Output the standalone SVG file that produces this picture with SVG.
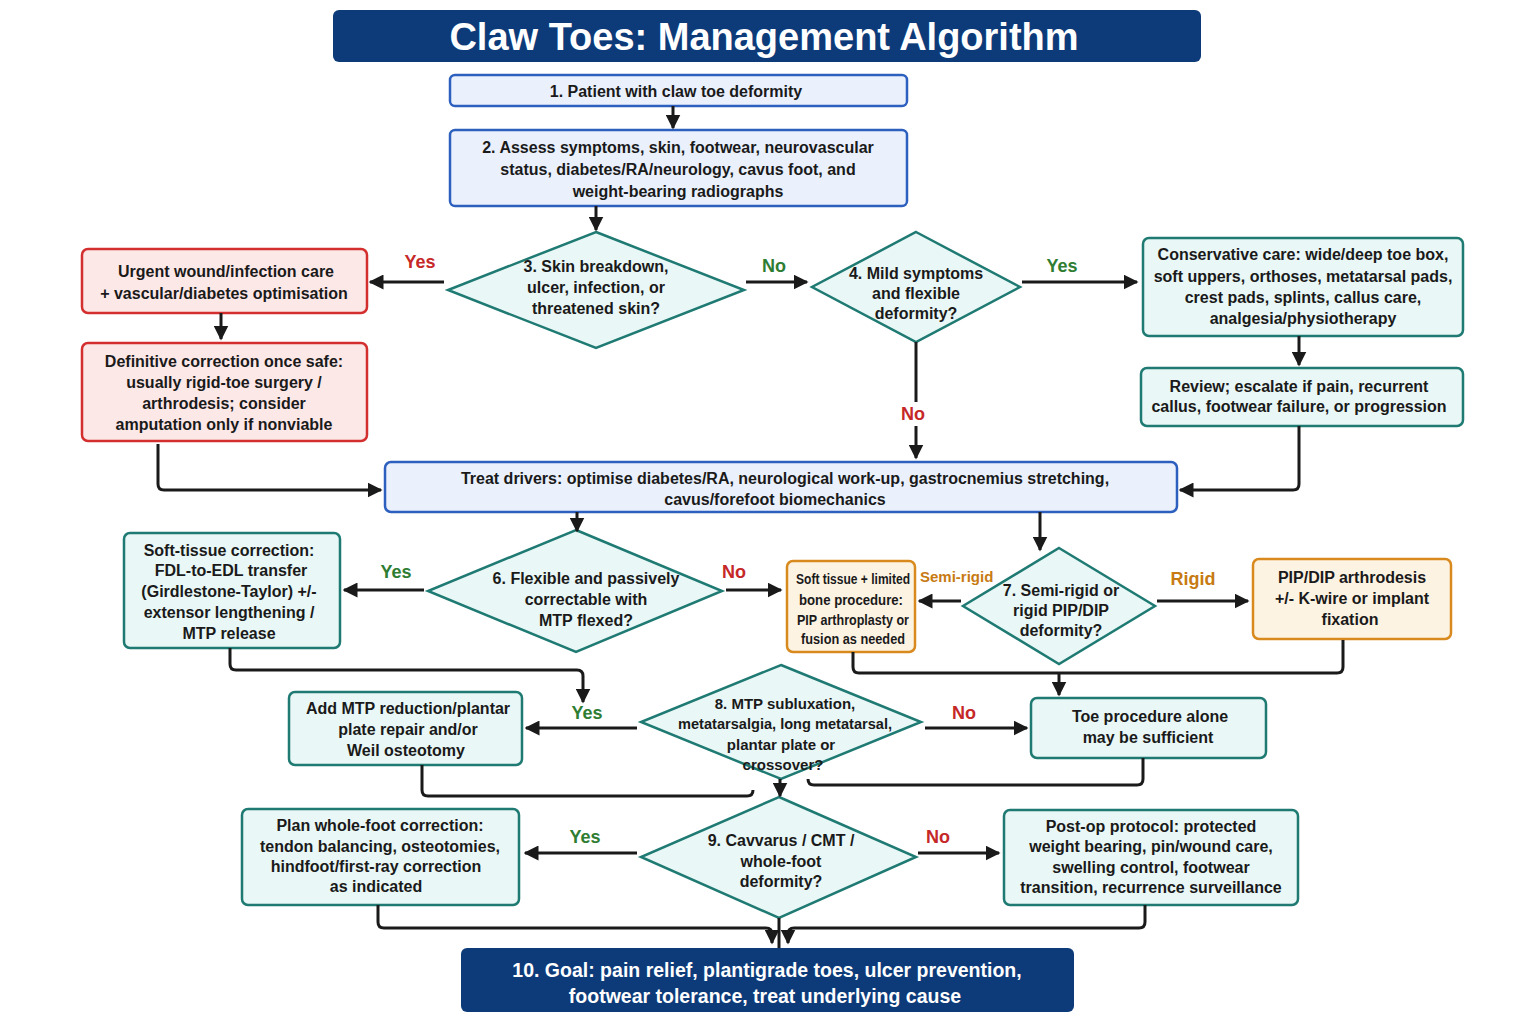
<svg xmlns="http://www.w3.org/2000/svg" width="1536" height="1024" viewBox="0 0 1536 1024">
<defs>
<marker id="ah" viewBox="0 0 10 10" refX="9" refY="5" markerWidth="5" markerHeight="5" orient="auto-start-reverse"><path d="M0,0 L10,5 L0,10 z" fill="#1a1a1a"/></marker>
<style>
text{font-family:"Liberation Sans",Arial,sans-serif;font-weight:bold;font-size:16px;fill:#1a1a1a;text-anchor:middle}
.blue{fill:#eaf1fd;stroke:#2d5fbf;stroke-width:2.5}
.teal{fill:#e9f7f6;stroke:#1e7a72;stroke-width:2.5}
.red{fill:#fde8e8;stroke:#d32f2f;stroke-width:2.5}
.org{fill:#fdf3e3;stroke:#d98a1e;stroke-width:2.5}
.navy{fill:#0d3b7a}
.c{fill:none;stroke:#1a1a1a;stroke-width:3;marker-end:url(#ah)}
.l{fill:none;stroke:#1a1a1a;stroke-width:3}
.y{fill:#2e7d32;font-size:18px}
.n{fill:#c62828;font-size:18px}
.o{fill:#c77a12;font-size:16px}
.w{fill:#fff}
.s15{font-size:15px}
</style>
</defs>
<rect width="1536" height="1024" fill="#fff"/>
<g id="title"><rect class="navy" x="333" y="10" width="868" height="52" rx="6"/><text class="w" x="764" y="50" style="font-size:38px">Claw Toes: Management Algorithm</text></g>
<g id="n1"><rect class="blue" x="450" y="75" width="457" height="31" rx="5"/><text x="676" y="97">1. Patient with claw toe deformity</text></g>
<g id="n2"><rect class="blue" x="450" y="130" width="457" height="76" rx="5"/><text x="678" y="153">2. Assess symptoms, skin, footwear, neurovascular</text><text x="678" y="175">status, diabetes/RA/neurology, cavus foot, and</text><text x="678" y="197">weight-bearing radiographs</text></g>
<g id="d3"><polygon class="teal" points="596,232 744,290 596,348 448,290"/><text x="596" y="272">3. Skin breakdown,</text><text x="596" y="293">ulcer, infection, or</text><text x="596" y="314">threatened skin?</text></g>
<g id="urgent"><rect class="red" x="82" y="249" width="285" height="64" rx="6"/><text x="226" y="277">Urgent wound/infection care</text><text x="224" y="299">+ vascular/diabetes optimisation</text></g>
<g id="definitive"><rect class="red" x="82" y="343" width="285" height="98" rx="6"/><text x="224" y="367">Definitive correction once safe:</text><text x="224" y="388">usually rigid-toe surgery /</text><text x="224" y="409">arthrodesis; consider</text><text x="224" y="430">amputation only if nonviable</text></g>
<g id="d4"><polygon class="teal" points="916,232 1020,287 916,342 812,287"/><text x="916" y="279">4. Mild symptoms</text><text x="916" y="299">and flexible</text><text x="916" y="319">deformity?</text></g>
<g id="conservative"><rect class="teal" x="1143" y="238" width="320" height="98" rx="6"/><text x="1303" y="260">Conservative care: wide/deep toe box,</text><text x="1303" y="282">soft uppers, orthoses, metatarsal pads,</text><text x="1303" y="303">crest pads, splints, callus care,</text><text x="1303" y="324">analgesia/physiotherapy</text></g>
<g id="review"><rect class="teal" x="1141" y="368" width="322" height="58" rx="6"/><text x="1299" y="392">Review; escalate if pain, recurrent</text><text x="1299" y="412">callus, footwear failure, or progression</text></g>
<g id="drivers"><rect class="blue" x="385" y="462" width="792" height="50" rx="6"/><text x="785" y="484">Treat drivers: optimise diabetes/RA, neurological work-up, gastrocnemius stretching,</text><text x="775" y="505">cavus/forefoot biomechanics</text></g>
<g id="softtissue"><rect class="teal" x="124" y="533" width="216" height="115" rx="6"/><text x="229" y="556">Soft-tissue correction:</text><text x="231" y="576">FDL-to-EDL transfer</text><text x="229" y="597">(Girdlestone-Taylor) +/-</text><text x="229" y="618">extensor lengthening /</text><text x="229" y="639">MTP release</text></g>
<g id="d6"><polygon class="teal" points="576,530 722,591 576,652 428,591"/><text x="586" y="584">6. Flexible and passively</text><text x="586" y="605">correctable with</text><text x="586" y="626">MTP flexed?</text></g>
<g id="limited"><rect class="org" x="787" y="561" width="128" height="91" rx="6"/><text x="853" y="584" style="font-size:14px" textLength="114" lengthAdjust="spacingAndGlyphs">Soft tissue + limited</text><text x="851" y="605" style="font-size:14px" textLength="104" lengthAdjust="spacingAndGlyphs">bone procedure:</text><text x="853" y="625" style="font-size:14px" textLength="112" lengthAdjust="spacingAndGlyphs">PIP arthroplasty or</text><text x="853" y="644" style="font-size:14px" textLength="104" lengthAdjust="spacingAndGlyphs">fusion as needed</text></g>
<g id="d7"><polygon class="teal" points="1059,548 1155,606 1059,664 963,606"/><text x="1061" y="596">7. Semi-rigid or</text><text x="1061" y="616">rigid PIP/DIP</text><text x="1061" y="636">deformity?</text></g>
<g id="pipdip"><rect class="org" x="1253" y="559" width="198" height="80" rx="6"/><text x="1352" y="583">PIP/DIP arthrodesis</text><text x="1352" y="604">+/- K-wire or implant</text><text x="1350" y="625">fixation</text></g>
<g id="mtpadd"><rect class="teal" x="289" y="692" width="233" height="73" rx="6"/><text x="408" y="714">Add MTP reduction/plantar</text><text x="408" y="735">plate repair and/or</text><text x="406" y="756">Weil osteotomy</text></g>
<g id="d8"><polygon class="teal" points="781,665 921,722 781,779 641,722"/><text class="s15" x="785" y="709">8. MTP subluxation,</text><text class="s15" x="785" y="729" textLength="214" lengthAdjust="spacingAndGlyphs">metatarsalgia, long metatarsal,</text><text class="s15" x="781" y="750">plantar plate or</text><text class="s15" x="783" y="770">crossover?</text></g>
<g id="toeonly"><rect class="teal" x="1031" y="698" width="235" height="60" rx="6"/><text x="1150" y="722">Toe procedure alone</text><text x="1148" y="743">may be sufficient</text></g>
<g id="plan"><rect class="teal" x="242" y="809" width="277" height="96" rx="6"/><text x="380" y="831">Plan whole-foot correction:</text><text x="380" y="852">tendon balancing, osteotomies,</text><text x="376" y="872">hindfoot/first-ray correction</text><text x="376" y="892">as indicated</text></g>
<g id="d9"><polygon class="teal" points="779,797 916,857 779,918 641,857"/><text x="781" y="846">9. Cavvarus / CMT /</text><text x="781" y="867">whole-foot</text><text x="781" y="887">deformity?</text></g>
<g id="postop"><rect class="teal" x="1004" y="810" width="294" height="95" rx="6"/><text x="1151" y="832">Post-op protocol: protected</text><text x="1151" y="852">weight bearing, pin/wound care,</text><text x="1151" y="873">swelling control, footwear</text><text x="1151" y="893">transition, recurrence surveillance</text></g>
<g id="goal"><rect class="navy" x="461" y="948" width="613" height="64" rx="6"/><text class="w" x="767" y="977" style="font-size:19.5px">10. Goal: pain relief, plantigrade toes, ulcer prevention,</text><text class="w" x="765" y="1003" style="font-size:19.5px">footwear tolerance, treat underlying cause</text></g>
<g id="connectors">
<path class="c" d="M673,106 V128"/>
<path class="c" d="M596,206 V230"/>
<path class="c" d="M444,282 H370"/>
<path class="c" d="M746,282 H807"/>
<path class="c" d="M1022,282 H1137"/>
<path class="c" d="M221,313 V339"/>
<path class="c" d="M1299,336 V365"/>
<path class="c" d="M916,342 V458"/>
<path class="c" d="M158,444 V484 Q158,490 164,490 H381"/>
<path class="c" d="M1299,426 V484 Q1299,490 1293,490 H1180"/>
<path class="c" d="M577,512 V531"/>
<path class="c" d="M1040,512 V550"/>
<path class="c" d="M424,590 H344"/>
<path class="c" d="M726,590 H781"/>
<path class="c" d="M961,601 H919"/>
<path class="c" d="M1157,601 H1248"/>
<path class="l" d="M853,652 V667 Q853,673 859,673 H1337 Q1343,673 1343,667 V640"/>
<path class="c" d="M1059,673 V695"/>
<path class="c" d="M230,648 V664 Q230,670 236,670 H577 Q583,670 583,676 V702"/>
<path class="c" d="M637,728 H526"/>
<path class="c" d="M925,728 H1027"/>
<path class="l" d="M422,765 V790 Q422,796 428,796 H747 Q753,796 753,790"/>
<path class="l" d="M1143,758 V779 Q1143,785 1137,785 H814 Q808,785 808,779"/>
<path class="c" d="M780,779 V796"/>
<path class="c" d="M637,853 H525"/>
<path class="c" d="M918,853 H999"/>
<path class="l" d="M779,918 V948"/>
<path class="c" d="M378,905 V922 Q378,928 384,928 H766 Q772,928 772,934 V943"/>
<path class="c" d="M1145,905 V922 Q1145,928 1139,928 H794 Q788,928 788,934 V943"/>
</g>
<g id="labels">
<text class="n" x="420" y="268">Yes</text>
<text class="y" x="774" y="272">No</text>
<text class="y" x="1062" y="272">Yes</text>
<rect x="898" y="402" width="30" height="24" fill="#fff"/>
<text class="n" x="913" y="420">No</text>
<text class="y" x="396" y="578">Yes</text>
<text class="n" x="734" y="578">No</text>
<text class="o" x="920" y="582" style="text-anchor:start;font-size:15px">Semi-rigid</text>
<text class="o" x="1193" y="585" style="font-size:18px">Rigid</text>
<text class="y" x="587" y="719">Yes</text>
<text class="n" x="964" y="719">No</text>
<text class="y" x="585" y="843">Yes</text>
<text class="n" x="938" y="843">No</text>
</g>
</svg>
